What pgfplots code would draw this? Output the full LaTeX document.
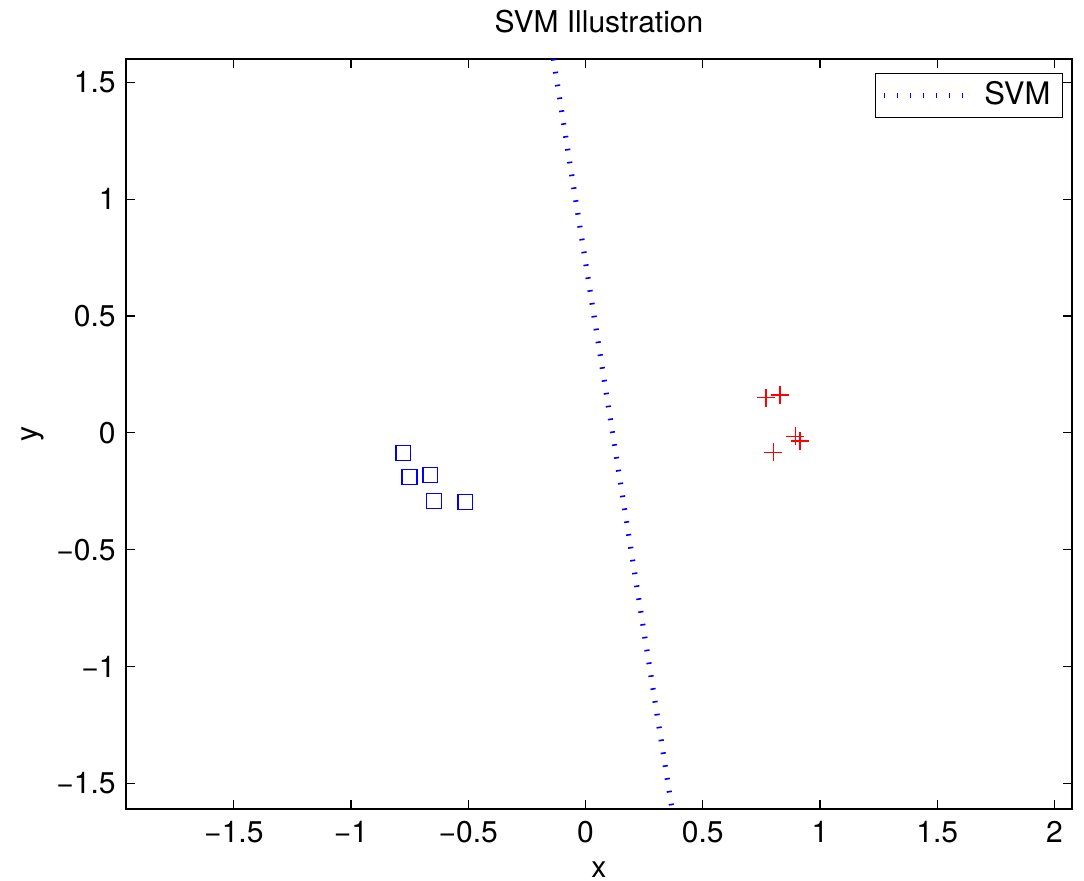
\documentclass[border=0pt]{standalone}
\usepackage{fontspec}
\setmainfont{TeX Gyre Heros}
\usepackage{pgfplots}
\pgfplotsset{compat=1.18}
\begin{document}
\fontsize{15}{17}\selectfont
\begin{tikzpicture}
\begin{axis}[
  at={(0,0)}, anchor=south west,
  scale only axis,
  width=473pt, height=375pt,
  xmin=-1.96, xmax=2.075,
  ymin=-1.61, ymax=1.6,
  axis line style={line width=0.7pt},
  tick style={line width=0.6pt, black},
  tick align=inside,
  major tick length=4.5pt,
  xtick={-1.5,-1,-0.5,0,0.5,1,1.5,2},
  xticklabels={−1.5,−1,−0.5,0,0.5,1,1.5,2},
  ytick={-1.5,-1,-0.5,0,0.5,1,1.5},
  yticklabels={−1.5,−1,−0.5,0,0.5,1,1.5},
  tick label style={font=\fontsize{15}{17}\selectfont},
  xticklabel style={yshift=-1pt},
  xlabel={x}, ylabel={y},
  label style={font=\fontsize{15}{17}\selectfont},
  xlabel style={yshift=1pt},
  ylabel style={yshift=-4pt},
  title={SVM Illustration},
  title style={font=\fontsize{15}{17}\selectfont, yshift=2pt},
  legend style={at={(1,1)}, anchor=north east, xshift=-4.5pt, yshift=-7pt,
    draw=black, line width=0.6pt, font=\fontsize{15.5}{17}\selectfont,
    inner xsep=3pt, inner ysep=1pt,
    nodes={inner sep=3pt}},
  legend cell align=left,
  legend image code/.code={
    \draw[#1] (4pt,0pt) -- (44pt,0pt);
    \path (50pt,0pt);
  },
]
\addplot[blue, line width=2.6pt, dash pattern=on 0.8pt off 5.7pt]
  coordinates {(-0.137,1.6) (0.369,-1.61)};
\addlegendentry{SVM}
\addplot[only marks, mark=square, blue, mark size=3.7pt, mark options={solid, line width=0.7pt}, forget plot]
  coordinates {(-0.777,-0.086) (-0.751,-0.189) (-0.662,-0.180) (-0.646,-0.292) (-0.513,-0.296)};
\addplot[only marks, mark=+, red, mark size=4.5pt, mark options={solid, line width=0.7pt}, forget plot]
  coordinates {(0.770,0.151) (0.829,0.162) (0.895,-0.015) (0.915,-0.035) (0.801,-0.084)};
\end{axis}
\pgfresetboundingbox
\path[use as bounding box] (-63pt,-36pt) rectangle (479pt,404.5pt);
\end{tikzpicture}
\end{document}
